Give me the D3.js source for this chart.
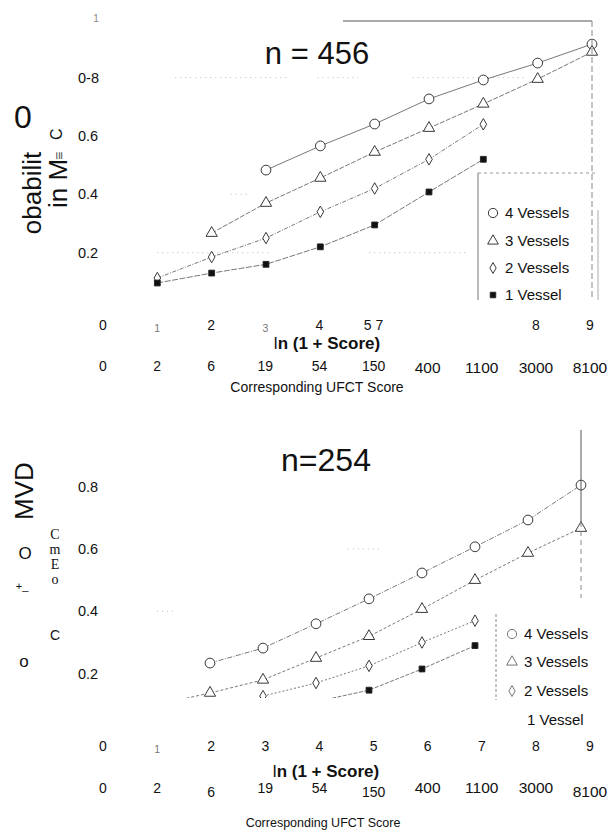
<!DOCTYPE html>
<html>
<head>
<meta charset="utf-8">
<script src="https://cdn.jsdelivr.net/npm/d3@7"></script>
<style>
  body { margin: 0; background: #fff; }
  text { font-family: Arial, "Liberation Sans", sans-serif; fill: #111; }
</style>
</head>
<body>
<div id="chart"></div>
<script>
// Datos
const lnTicks = [0, 1, 2, 3, 4, 5, 6, 7, 8, 9];
const topLnLabels = ["0", "1", "2", "3", "4", "5 7", "", "", "8", "9"];
const botLnLabels = ["0", "1", "2", "3", "4", "5", "6", "7", "8", "9"];
const scoreLabels = ["0", "2", "6", "19", "54", "150", "400", "1100", "3000", "8100"];
const yTickValues = [0.2, 0.4, 0.6, 0.8];
const topYLabels = ["0.2", "0.4", "0.6", "0-8"];
const botYLabels = ["0.2", "0.4", "0.6", "0.8"];
const seriesNames = ["4 Vessels", "3 Vessels", "2 Vessels", "1 Vessel"];

// panel superior (n = 456)
const top4x = [3, 4, 5, 6, 7, 8, 9];
const top4y = [0.483, 0.566, 0.641, 0.727, 0.792, 0.85, 0.915];
const top3x = [2, 3, 4, 5, 6, 7, 8, 9];
const top3y = [0.267, 0.37, 0.456, 0.545, 0.627, 0.71, 0.795, 0.888];
const top2x = [1, 2, 3, 4, 5, 6, 7];
const top2y = [0.113, 0.185, 0.25, 0.34, 0.42, 0.52, 0.64];
const top1x = [1, 2, 3, 4, 5, 6, 7];
const top1y = [0.096, 0.13, 0.16, 0.22, 0.295, 0.408, 0.52];

// panel inferior (n = 254)
const bot4x = [2, 3, 4, 5, 6, 7, 8, 9];
const bot4y = [0.234, 0.282, 0.36, 0.44, 0.523, 0.607, 0.693, 0.805];
const bot3x = [1, 2, 3, 4, 5, 6, 7, 8, 9];
const bot3y = [0.1, 0.138, 0.18, 0.25, 0.32, 0.407, 0.5, 0.587, 0.667];
const bot2x = [3, 4, 5, 6, 7];
const bot2y = [0.128, 0.17, 0.225, 0.3, 0.37];
const bot1x = [4, 5, 6, 7];
const bot1y = [0.11, 0.147, 0.215, 0.29];

const width = 610;
const height = 834;

const svg = d3
  .select("div#chart")
  .append("svg")
  .attr("width", width)
  .attr("height", height);

const symbols = [d3.symbolCircle, d3.symbolTriangle, d3.symbolDiamond, d3.symbolSquare];
const symbolSizes = [75, 55, 38, 34];

const zip = (xs, ys) => xs.map((x, i) => ({ x: x, v: ys[i] }));

// Pinta un panel completo
const paintPanel = (cfg) => {
  const g = svg.append("g");
  const xLab = d3.scaleLinear().domain([0, 9]).range(cfg.labelRange);
  const x = d3.scaleLinear().domain([0, 9]).range(cfg.dataRange);
  const y = d3.scaleLinear().domain([0, 1]).range(cfg.yRange);

  // rejilla punteada (fragmentos del escaneo)
  cfg.grid.forEach(([v, a, b]) => {
    g.append("line")
      .attr("x1", x(a)).attr("x2", x(b))
      .attr("y1", y(v)).attr("y2", y(v))
      .attr("stroke", "#aaa")
      .attr("stroke-width", 0.8)
      .attr("stroke-dasharray", "1,4");
  });

  // etiquetas eje y
  g.selectAll("text.ytick")
    .data(yTickValues)
    .join("text")
    .attr("class", "ytick")
    .attr("x", 78)
    .attr("y", (d) => y(d) + 5)
    .attr("font-size", 14.5)
    .text((d, i) => cfg.yLabels[i]);

  // lineas y marcadores
  const clipId = "clip" + cfg.id;
  svg.append("clipPath").attr("id", clipId)
    .append("rect")
    .attr("x", 0).attr("y", 0)
    .attr("width", width).attr("height", cfg.clipBottom);

  const plot = g.append("g").attr("clip-path", `url(#${clipId})`);
  const line = d3.line().x((d) => x(d.x)).y((d) => y(d.v));

  cfg.series.forEach((s, i) => {
    plot.append("path")
      .datum(s)
      .attr("d", line)
      .attr("fill", "none")
      .attr("stroke", "#555")
      .attr("stroke-width", 0.8)
      .attr("stroke-dasharray", cfg.dashes[i]);

    plot.selectAll("path.m" + i)
      .data(s)
      .join("path")
      .attr("class", "m" + i)
      .attr("transform", (d) => `translate(${x(d.x)},${y(d.v)})`)
      .attr("d", d3.symbol().type(symbols[i]).size(symbolSizes[i]))
      .attr("fill", i === 3 ? "#111" : "#fff")
      .attr("stroke", "#222")
      .attr("stroke-width", 0.9);
  });

  // etiquetas eje x
  g.selectAll("text.ln")
    .data(lnTicks)
    .join("text")
    .attr("class", "ln")
    .attr("x", (d) => xLab(d))
    .attr("y", (d) => cfg.lnY + (cfg.faint.includes(d) ? 2 : 0))
    .attr("text-anchor", "middle")
    .attr("font-size", (d) => (cfg.faint.includes(d) ? 10.5 : 14))
    .style("fill", (d) => (cfg.faint.includes(d) ? "#777" : "#111"))
    .text((d, i) => cfg.lnLabels[i]);

  const lnTitle = g.append("text")
    .attr("x", cfg.lnTitle[0])
    .attr("y", cfg.lnTitle[1])
    .attr("text-anchor", "middle")
    .attr("font-size", 17);
  lnTitle.append("tspan").attr("font-weight", "normal").text("l");
  lnTitle.append("tspan").attr("font-weight", "bold").text("n (1 + Score)");

  g.selectAll("text.score")
    .data(lnTicks)
    .join("text")
    .attr("class", "score")
    .attr("x", (d) => xLab(d))
    .attr("y", (d) => cfg.scoreY + (cfg.lowScore.includes(d) ? cfg.lowShift : 0))
    .attr("text-anchor", "middle")
    .attr("font-size", (d) => (cfg.bigScore.includes(d) ? 15.5 : 14))
    .text((d, i) => scoreLabels[i]);

  g.append("text")
    .attr("x", cfg.ufct[0])
    .attr("y", cfg.ufct[1])
    .attr("text-anchor", "middle")
    .attr("font-size", cfg.ufct[2])
    .text("Corresponding UFCT Score");

  g.append("text")
    .attr("x", cfg.title[0])
    .attr("y", cfg.title[1])
    .attr("text-anchor", "middle")
    .attr("font-size", cfg.title[2])
    .text(cfg.titleText);

  return { g, x, y };
};

// Panel superior
const topPanel = paintPanel({
  id: "top",
  labelRange: [103, 590],
  dataRange: [103, 592],
  yRange: [311, 19.3],
  yLabels: topYLabels,
  clipBottom: height,
  series: [zip(top4x, top4y), zip(top3x, top3y), zip(top2x, top2y), zip(top1x, top1y)],
  dashes: ["none", "5,1.5", "4,1.5,1,1.5", "6,1.5"],
  grid: [[0.8, 1.33, 3.4], [0.8, 3.95, 4.7], [0.8, 5.7, 7.75], [0.4, 2.35, 2.65], [0.2, 1.0, 3.1], [0.2, 4.9, 6.7]],
  lnLabels: topLnLabels,
  faint: [1, 3],
  lnY: 330,
  lnTitle: [327, 349],
  scoreY: 371,
  lowScore: [6, 7, 8, 9],
  lowShift: 2,
  bigScore: [6, 7, 8, 9],
  ufct: [317, 392, 14],
  title: [317, 64, 31],
  titleText: "n = 456",
});

// marco superior
topPanel.g.append("line")
  .attr("x1", 343).attr("x2", topPanel.x(9))
  .attr("y1", 21).attr("y2", 21)
  .attr("stroke", "#555").attr("stroke-width", 1);
topPanel.g.append("line")
  .attr("x1", topPanel.x(9)).attr("x2", topPanel.x(9))
  .attr("y1", 21).attr("y2", 300)
  .attr("stroke", "#888").attr("stroke-width", 1)
  .attr("stroke-dasharray", "6,3");

// Panel inferior
const botPanel = paintPanel({
  id: "bot",
  labelRange: [103, 590],
  dataRange: [104, 581],
  yRange: [736, 424.3],
  yLabels: botYLabels,
  clipBottom: 698,
  series: [zip(bot4x, bot4y), zip(bot3x, bot3y), zip(bot2x, bot2y), zip(bot1x, bot1y)],
  dashes: ["5,1.5,1,1.5", "3,2", "2,2", "4,1.5"],
  grid: [[0.6, 4.6, 5.2], [0.4, 1.0, 1.3]],
  lnLabels: botLnLabels,
  faint: [1],
  lnY: 751,
  lnTitle: [326, 777],
  scoreY: 793,
  lowScore: [2, 5, 9],
  lowShift: 4,
  bigScore: [6, 7, 8, 9],
  ufct: [323, 827, 12.5],
  title: [326, 471, 32],
  titleText: "n=254",
});

// linea vertical derecha del panel inferior
botPanel.g.append("line")
  .attr("x1", botPanel.x(9)).attr("x2", botPanel.x(9))
  .attr("y1", 430).attr("y2", 522)
  .attr("stroke", "#555").attr("stroke-width", 1);
botPanel.g.append("line")
  .attr("x1", botPanel.x(9)).attr("x2", botPanel.x(9))
  .attr("y1", 522).attr("y2", 598)
  .attr("stroke", "#888").attr("stroke-width", 1)
  .attr("stroke-dasharray", "5,4");

// Leyendas
const paintLegend = (x0, yRows, boxLines, showMarker, fontSize, markerColor) => {
  const lg = svg.append("g");
  boxLines.forEach((l) => {
    lg.append("line")
      .attr("x1", l[0]).attr("y1", l[1]).attr("x2", l[2]).attr("y2", l[3])
      .attr("stroke", l[4]).attr("stroke-width", 1)
      .attr("stroke-dasharray", l[5]);
  });
  seriesNames.forEach((name, i) => {
    if (showMarker[i]) {
      lg.append("path")
        .attr("transform", `translate(${x0},${yRows[i]})`)
        .attr("d", d3.symbol().type(symbols[i]).size(symbolSizes[i] * 0.9))
        .attr("fill", i === 3 ? "#111" : "#fff")
        .attr("stroke", markerColor)
        .attr("stroke-width", 0.9);
    }
    lg.append("text")
      .attr("x", x0 + (showMarker[i] ? 12 : 15))
      .attr("y", yRows[i] + 5)
      .attr("font-size", fontSize)
      .text(name);
  });
};

paintLegend(
  493,
  [213, 241, 268, 295],
  [
    [478, 173, 478, 300, "#777", "none"],
    [478, 173, 598, 173, "#999", "3,3"],
    [598, 210, 598, 300, "#aaa", "none"],
  ],
  [true, true, true, true],
  15,
  "#222"
);

paintLegend(
  512,
  [634, 662, 691, 720],
  [[496, 614, 496, 700, "#888", "3,2"]],
  [true, true, true, false],
  15,
  "#666"
);

// Etiquetas del eje y (texto escaneado)
const addText = (txt, x, y, size, opts = {}) => {
  const t = svg.append("text")
    .attr("font-size", size)
    .attr("text-anchor", opts.anchor || "start")
    .text(txt);
  if (opts.rotate) {
    t.attr("transform", `translate(${x},${y}) rotate(-90)`);
  } else {
    t.attr("x", x).attr("y", y);
  }
  if (opts.family) t.style("font-family", opts.family);
  if (opts.fill) t.style("fill", opts.fill);
  return t;
};

addText("1", 96, 22, 10, { anchor: "middle", fill: "#888" });
addText("0", 23, 128, 32, { anchor: "middle" });
addText("obabilit", 41, 193, 26, { anchor: "middle", rotate: true });
addText("in M", 67, 208, 26, { anchor: "start", rotate: true });
addText("≡", 64, 160, 14, { anchor: "start", rotate: true, fill: "#555" });
addText("C", 62, 140, 16, { anchor: "start", rotate: true });

addText("MVD", 33, 491, 26, { anchor: "middle", rotate: true });
addText("O", 25, 559, 17, { anchor: "middle" });
addText("+_", 22, 590, 11, { anchor: "middle" });
addText("o", 24, 667, 17, { anchor: "middle" });
svg.append("text")
  .attr("x", 55)
  .attr("y", 527)
  .attr("font-size", 14)
  .style("font-family", "Liberation Serif")
  .style("writing-mode", "vertical-rl")
  .style("text-orientation", "upright")
  .text("CmEo");
addText("C", 55, 640, 14, { anchor: "middle" });
</script>
</body>
</html>
